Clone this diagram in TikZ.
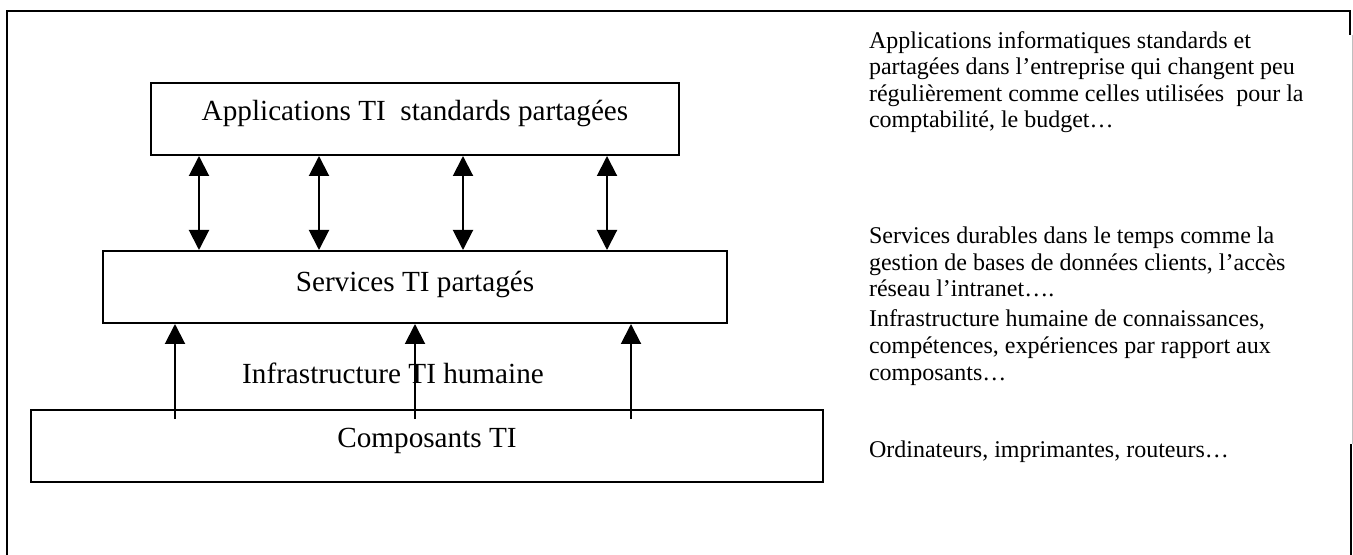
\documentclass[tikz,border=0pt]{standalone}
\usepackage{fontspec}
\setmainfont{Liberation Serif}
\usetikzlibrary{arrows.meta}
\newcommand{\boxfont}{\fontsize{14.6}{17}\selectfont}
\newcommand{\notefont}{\fontsize{12}{13.3}\selectfont}

\begin{document}
\begin{tikzpicture}[x=0.5pt, y=-0.5pt, line width=1pt,
    layerbox/.style={draw, rectangle, minimum height=36pt, inner sep=0pt, font=\boxfont, text height=0.69em, text depth=0.55em},
    notetext/.style={anchor=base west, align=left, inner sep=0pt, font=\notefont},
    twoway/.style={{Triangle[length=10pt,width=10pt]}-{Triangle[length=10pt,width=10pt]}},
    oneway/.style={-{Triangle[length=10pt,width=10pt]}}
  ]
  \useasboundingbox (0,0) rectangle (1353,555);
  % frame
  \draw (7,555) -- (7,11) -- (1350,11) -- (1350,35);
  \draw[black!25, line width=0.5pt] (1352,35) -- (1352,444);
  \draw (1351,444) -- (1351,555);

  % layers
  \node[layerbox, minimum width=264pt] (A) at (415,119) {Applications TI~ standards partagées};
  \node[layerbox, minimum width=312pt, text depth=0.2em] (S) at (415,287) {Services TI partagés};
  \node[layerbox, minimum width=396pt] (C) at (427,446) {Composants TI};
  \node[anchor=base, inner sep=0pt, font=\boxfont] (H) at (393,383) {Infrastructure TI humaine};

  % notes (placed at the baseline of their last line)
  \node[notetext] (nA) at (868,128) {Applications informatiques standards et\\
    partagées dans l’entreprise qui changent peu\\
    régulièrement comme celles utilisées~ pour la\\
    comptabilité, le budget…};
  \node[notetext] (nS) at (868,297) {Services durables dans le temps comme la\\
    gestion de bases de données clients, l’accès\\
    réseau l’intranet….};
  \node[notetext] (nH) at (868,380) {Infrastructure humaine de connaissances,\\
    compétences, expériences par rapport aux\\
    composants…};
  \node[notetext] (nC) at (868,457) {Ordinateurs, imprimantes, routeurs…};

  \foreach \x in {199,319,463,607}
    \draw[twoway] (A.south -| \x,0) -- (S.north -| \x,0);
  \foreach \x [count=\i] in {175,415,631} {
    \coordinate (f\i) at (\x,419);
    \draw[oneway] (f\i) -- (S.south -| f\i);
  }
\end{tikzpicture}
\end{document}
